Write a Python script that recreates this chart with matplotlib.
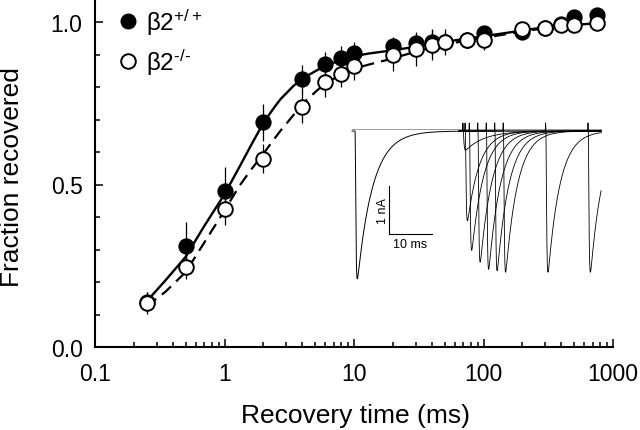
import matplotlib
matplotlib.use('Agg')
import matplotlib.pyplot as plt
import numpy as np
from matplotlib.lines import Line2D
from matplotlib.ticker import FixedLocator, NullFormatter

plt.rcParams['font.family'] = ['Liberation Sans', 'DejaVu Sans']
plt.rcParams['mathtext.fontset'] = 'custom'
plt.rcParams['mathtext.rm'] = 'Liberation Sans'
plt.rcParams['mathtext.it'] = 'Liberation Sans'
plt.rcParams['mathtext.default'] = 'regular'

# ---------------- data ----------------
rec_time = [0.25, 0.5, 1, 2, 4, 6, 8, 10, 20, 30, 40, 50, 75, 100, 200, 300, 400, 500, 750]
wt_mean = [0.14, 0.312, 0.481, 0.691, 0.826, 0.871, 0.888, 0.906, 0.925, 0.935, 0.94, 0.94,
           0.945, 0.966, 0.968, 0.983, 0.993, 1.014, 1.023]
wt_sem = [0.03, 0.074, 0.074, 0.056, 0.042, 0.038, 0.039, 0.033, 0.03, 0.034, 0.04, 0.03,
          0.02, 0.015, 0.01, 0.01, 0.01, 0.01, 0.01]
ko_mean = [0.135, 0.247, 0.425, 0.58, 0.74, 0.815, 0.84, 0.865, 0.90, 0.916, 0.93, 0.938,
           0.945, 0.944, 0.978, 0.982, 0.99, 0.99, 0.998]
ko_sem = [0.034, 0.037, 0.05, 0.045, 0.05, 0.046, 0.041, 0.044, 0.05, 0.05, 0.046, 0.04,
          0.025, 0.03, 0.01, 0.01, 0.01, 0.01, 0.01]

fit_time = [0.25, 0.35, 0.5, 0.7, 1, 1.3, 1.6, 2, 2.4, 2.7, 3.4, 4, 5.2, 6, 7.8, 10, 13,
            20, 30, 50, 75, 100, 200, 300, 500, 800]
wt_fit = [0.14, 0.205, 0.277, 0.373, 0.47, 0.553, 0.62, 0.69, 0.735, 0.762, 0.803, 0.826,
          0.852, 0.865, 0.882, 0.895, 0.903, 0.913, 0.924, 0.939, 0.949, 0.956, 0.974,
          0.984, 0.991, 0.997]
ko_fit = [0.125, 0.17, 0.23, 0.322, 0.42, 0.495, 0.545, 0.595, 0.638, 0.665, 0.713, 0.748,
          0.79, 0.81, 0.837, 0.856, 0.869, 0.888, 0.909, 0.931, 0.943, 0.951, 0.971, 0.981,
          0.99, 0.997]

labels = ['β2$^{+/+}$', 'β2$^{\u2010/\u2010}$']
xtick_vals = [0.1, 1, 10, 100, 1000]
xtick_labels = ['0.1', '1', '10', '100', '1000']
ytick_vals = [0.0, 0.5, 1.0]
ytick_labels = ['0.0', '0.5', '1.0']

# inset traces (ms, nA)
cond_depth = 3.1
test_interval = [0.5, 1, 2, 4, 6, 8, 10, 20, 30]
test_depth = [0.40, 1.88, 2.50, 2.75, 2.90, 2.93, 2.96, 2.96, 2.96]
prepulse_ms = 25.0
scale_ms = 10
scale_nA = 1

# ---------------- figure ----------------
fig = plt.figure(figsize=(6.4, 4.31), dpi=100)
ax = fig.add_axes([95/640, 1 - 348/431, 518/640, 348/431])
ax.set_xscale('log')
ax.set_xlim(0.1, 1000)
ax.set_ylim(0, 348/325)

ax.plot(fit_time, wt_fit, color='black', lw=1.7, zorder=2)
ax.plot(fit_time, ko_fit, color='black', lw=1.6, ls=(0, (5.5, 3.2)), zorder=2)

ax.errorbar(rec_time, wt_mean, yerr=wt_sem, fmt='none', ecolor='black', elinewidth=0.9,
            capsize=0, zorder=3)
ax.errorbar(rec_time, ko_mean, yerr=ko_sem, fmt='none', ecolor='black', elinewidth=0.9,
            capsize=0, zorder=3)
ax.plot(rec_time, wt_mean, 'o', ms=10.5, mfc='black', mec='black', mew=1.2, zorder=4)
ax.plot(rec_time, ko_mean, 'o', ms=10.5, mfc='white', mec='black', mew=1.4, zorder=5)

for s in ['top', 'right']:
    ax.spines[s].set_visible(False)
for s in ['left', 'bottom']:
    ax.spines[s].set_linewidth(1.5)

ax.set_xticks(xtick_vals)
ax.set_xticklabels(xtick_labels)
ax.xaxis.set_minor_locator(FixedLocator([m * d for d in [0.1, 1, 10, 100] for m in range(2, 10)]))
ax.xaxis.set_minor_formatter(NullFormatter())
ax.set_yticks(ytick_vals)
ax.set_yticklabels(ytick_labels)
ax.yaxis.set_minor_locator(FixedLocator(np.round(np.arange(0.1, 1.05, 0.1), 2)))
ax.tick_params(which='both', direction='in', width=1.1, labelsize=16.5)
ax.tick_params(which='major', length=6)
ax.tick_params(which='minor', length=3.5)
ax.tick_params(axis='x', pad=11)
ax.tick_params(axis='y', pad=9)

ax.set_xlabel('Recovery time (ms)', fontsize=19)
ax.set_ylabel('Fraction recovered', fontsize=19)
ax.xaxis.set_label_coords(0.502, -0.162)
ax.yaxis.set_label_coords(-0.138, 0.49)

handles = [Line2D([], [], marker='o', ls='none', ms=10.5, mfc='black', mec='black'),
           Line2D([], [], marker='o', ls='none', ms=10.5, mfc='white', mec='black', mew=1.4)]
leg = ax.legend(handles, labels, loc='upper left', bbox_to_anchor=(0.042, 0.978),
                frameon=False, fontsize=17.5, handlelength=0.9, handletextpad=0.3,
                labelspacing=0.4, borderaxespad=0, borderpad=0)

# ---------------- inset traces ----------------
px_per_ms = 4.24
t_left = (350 - 355) / px_per_ms
t_right = (603 - 355) / px_per_ms
y_top = (132 - 115) / 47.7
y_bot = -(285 - 132) / 47.7
iax = fig.add_axes([350/640, 1 - 285/431, 253/640, 170/431])
iax.set_xlim(t_left, t_right)
iax.set_ylim(y_bot, y_top)
iax.axis('off')
iax.patch.set_alpha(0)

t = np.arange(-0.7, 58.05, 0.01)


def current(onset, depth, tau_a=0.12, tau_h=2.7):
    s = np.clip(t - onset, 0, None)
    w = (1 - np.exp(-s / tau_a)) ** 3 * np.exp(-s / tau_h)
    ref = np.arange(0, 20, 0.005)
    wmax = ((1 - np.exp(-ref / tau_a)) ** 3 * np.exp(-ref / tau_h)).max()
    return -depth * w / wmax


iax.plot([-0.7, 58.0], [0.042, 0.042], color='#9a9a9a', lw=0.7, zorder=1)
cond = current(0.0, cond_depth, tau_h=3.6)
iax.plot(t[t < prepulse_ms], cond[t < prepulse_ms], color='black', lw=0.7, zorder=2)
for k, (dt, d) in enumerate(zip(test_interval, test_depth)):
    onset = prepulse_ms + dt
    tau = 4.5 if dt < 1 else 2.8
    y = cond + current(onset, d, tau_h=tau)
    y = y + 0.17 * np.exp(-((t - onset + 0.05) / 0.05) ** 2)
    m = t >= prepulse_ms - 0.5
    iax.plot(t[m], y[m], color='black', lw=0.6, zorder=2)

# scale bars
sx = (389.3 - 355) / px_per_ms
sy = -(235 - 132) / 47.7
iax.plot([sx, sx, sx + scale_ms], [sy + scale_nA, sy, sy], color='black', lw=0.8)
iax.text(sx - 1.6, sy + 0.5 * scale_nA, f'{scale_nA} nA', rotation=90, ha='center',
         va='center', fontsize=9)
iax.text(sx + 0.5 * scale_ms, sy - 0.22, f'{scale_ms} ms', ha='center', va='center',
         fontsize=9)

fig.savefig('out.png', dpi=100)
